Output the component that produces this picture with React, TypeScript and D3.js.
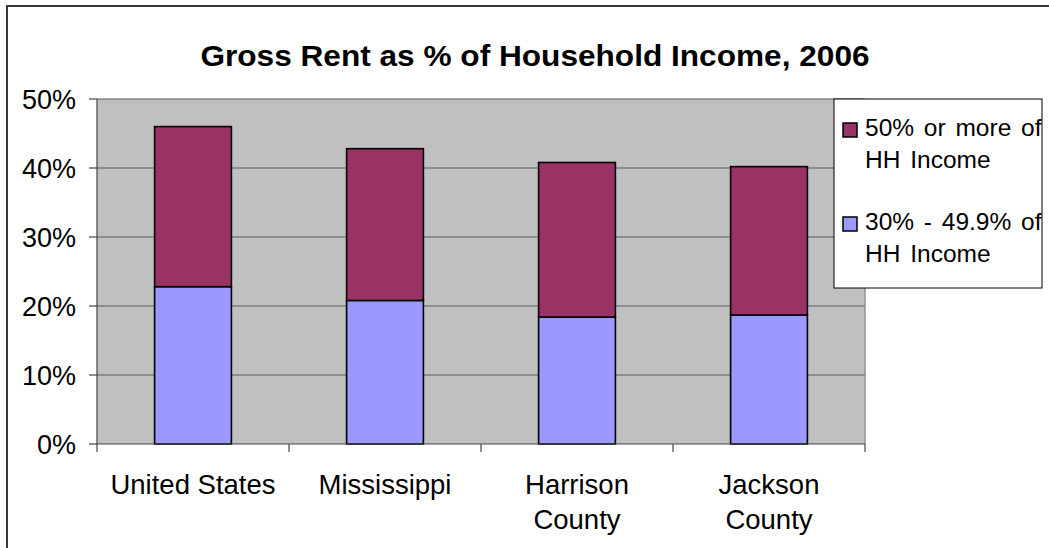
import React from "react";
import * as d3 from "d3";

const categories = [["United States"], ["Mississippi"], ["Harrison", "County"], ["Jackson", "County"]];
const keys = ["United States", "Mississippi", "Harrison County", "Jackson County"];
const lowerSeries = [22.8, 20.8, 18.4, 18.7]; // 30% - 49.9% of HH Income
const upperSeries = [23.2, 22.0, 22.4, 21.5]; // 50% or more of HH Income
const yTicks = [0, 10, 20, 30, 40, 50];
const seriesNames = ["30% - 49.9% of HH Income", "50% or more of HH Income"];
const legendLines = [["50% or more of", "HH Income"], ["30% - 49.9% of", "HH Income"]];
const title = "Gross Rent as % of Household Income, 2006";

const W = 1049, H = 548;
const plot = { left: 97, right: 865, top: 99, bottom: 444 };
const colors = { lower: "#9999FF", upper: "#993366" };
const font = "Arial, 'Liberation Sans', Helvetica, sans-serif";

export default function App() {
  const x = d3.scaleBand<string>().domain(keys).range([plot.left, plot.right]).paddingInner(0.6).paddingOuter(0.3);
  const xEdges = d3.scaleLinear().domain([0, keys.length]).range([plot.left, plot.right]);
  const y = d3.scaleLinear().domain([0, 50]).range([plot.bottom, plot.top]);
  const rows = keys.map((k, i) => ({ key: k, lower: lowerSeries[i], upper: upperSeries[i] }));
  const stack = d3.stack<any>().keys(["lower", "upper"])(rows);

  return (
    <svg width={W} height={H} style={{ position: "absolute", left: 0, top: 0, background: "#fff" }} fontFamily={font}>
      <defs>
        <clipPath id="legclip"><rect x={834} y={99} width={208} height={189} /></clipPath>
      </defs>
      <rect x={7} y={6} width={1200} height={700} fill="#fff" stroke="#3a3a3a" strokeWidth={2} />
      <text x={535} y={66} textAnchor="middle" fontWeight="bold" fontSize={29} fill="#000"
        transform={`translate(535,0) scale(1.09,1) translate(-535,0)`}>{title}</text>

      <rect x={plot.left} y={plot.top} width={plot.right - plot.left} height={plot.bottom - plot.top} fill="#C0C0C0" />
      {yTicks.map(t => (
        <g key={t}>
          {t > 0 && <line x1={plot.left} x2={plot.right} y1={y(t)} y2={y(t)} stroke="#5a5a5a" strokeWidth={1.2} />}
          <line x1={plot.left - 8} x2={plot.left} y1={y(t)} y2={y(t)} stroke="#444" strokeWidth={1.2} />
          <text x={76} y={y(t)} dy="0.36em" textAnchor="end" fontSize={27} fill="#000">{t}%</text>
        </g>
      ))}
      <line x1={plot.right} x2={plot.right} y1={plot.top} y2={plot.bottom} stroke="#808080" strokeWidth={1.2} />

      {stack.map(s => (
        <g key={s.key}>
          {s.map((d, i) => (
            <rect key={i} x={x(keys[i])!} width={x.bandwidth()} y={y(d[1])} height={y(d[0]) - y(d[1])}
              fill={s.key === "lower" ? colors.lower : colors.upper} stroke="#000" strokeWidth={1.6} />
          ))}
        </g>
      ))}

      <line x1={plot.left} x2={plot.left} y1={plot.top} y2={plot.bottom} stroke="#444" strokeWidth={1.2} />
      <line x1={plot.left} x2={plot.right} y1={plot.bottom} y2={plot.bottom} stroke="#444" strokeWidth={1.2} />
      {d3.range(keys.length + 1).map(i => (
        <line key={i} x1={xEdges(i)} x2={xEdges(i)} y1={plot.bottom} y2={plot.bottom + 8} stroke="#444" strokeWidth={1.2} />
      ))}
      {categories.map((lines, i) => (
        <text key={i} x={x(keys[i])! + x.bandwidth() / 2} y={494} textAnchor="middle" fontSize={27.5} fill="#000">
          {lines.map((l, j) => <tspan key={j} x={x(keys[i])! + x.bandwidth() / 2} dy={j === 0 ? 0 : 35}>{l}</tspan>)}
        </text>
      ))}

      <rect x={834} y={99} width={208} height={189} fill="#fff" stroke="#000" strokeWidth={1} />
      {legendLines.map((lines, i) => (
        <g key={i}>
          <rect x={843} y={123 + i * 94} width={14} height={14} fill={i === 0 ? colors.upper : colors.lower} stroke="#000" strokeWidth={1.5}>
            <title>{i === 0 ? seriesNames[1] : seriesNames[0]}</title>
          </rect>
          <text fontSize={24.5} wordSpacing={3} fill="#000" clipPath="url(#legclip)">
            {lines.map((l, j) => <tspan key={j} x={865} y={135.5 + i * 94 + j * 32.5}>{l}</tspan>)}
          </text>
        </g>
      ))}
    </svg>
  );
}
